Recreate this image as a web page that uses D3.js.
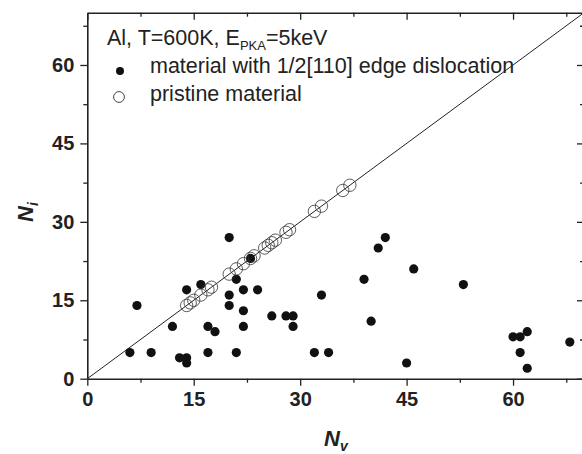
<!DOCTYPE html>
<html>
<head>
<meta charset="utf-8">
<script src="https://cdn.jsdelivr.net/npm/d3@7"></script>
<style>
  html, body { margin: 0; padding: 0; background: #fff; }
  svg { display: block; font-family: "Liberation Sans", Arial, sans-serif; }
</style>
</head>
<body>
<svg id="chart" width="582" height="454"></svg>
<script>
// material with 1/2[110] edge dislocation
const defectNv = [6, 7, 9, 12, 13, 14, 14, 14, 16, 17, 17, 18, 20, 20, 20, 21, 21, 22, 22, 22, 23, 24,
  26, 28, 29, 29, 32, 33, 34, 39, 40, 41, 42, 45, 46, 53, 60, 61, 62, 61, 62, 68]
const defectNi = [5, 14, 5, 10, 4, 4, 3, 17, 18, 10, 5, 9, 27, 16, 14, 19, 5, 17, 13, 10, 23, 17,
  12, 12, 12, 10, 5, 16, 5, 19, 11, 25, 27, 3, 21, 18, 8, 8, 9, 5, 2, 7]
// pristine material
const pristineNv = [14, 14.5, 15, 16, 17, 17.5, 20, 21, 22, 23, 23.5, 25, 25.5, 26, 26.5, 28, 28.5, 32, 33, 36, 37]
const pristineNi = [14, 14.5, 15, 16, 17, 17.5, 20, 21, 22, 23, 23.5, 25, 25.5, 26, 26.5, 28, 28.5, 32, 33, 36, 37]
const majorTicks = [0, 15, 30, 45, 60]
const minorTicks = [7.5, 22.5, 37.5, 52.5, 67.5]

const svg = d3.select('#chart')
const x = d3.scaleLinear().domain([0, 70]).range([87.3, 584])
const y = d3.scaleLinear().domain([0, 70]).range([378.7, 12.7])
const ink = '#222'

// y = x reference line
svg.append('line')
  .attr('x1', x(0)).attr('y1', y(0))
  .attr('x2', x(70)).attr('y2', y(70))
  .attr('stroke', ink).attr('stroke-width', 1)

// bottom/left ticks point out, top/right mirror axes point in
const axes = [
  [d3.axisBottom(x), `translate(0,${y(0)})`, true],
  [d3.axisLeft(y), `translate(${x(0)},0)`, true],
  [d3.axisBottom(x), `translate(0,${y(70)})`, false],
  [d3.axisLeft(y), `translate(${x(70)},0)`, false]
]
axes.forEach(([axis, t, labels]) => {
  const g = svg.append('g').attr('transform', t)
    .call(axis.tickValues(majorTicks).tickSizeOuter(0).tickSizeInner(7).tickPadding(6)
      .tickFormat(labels ? d3.format('d') : ''))
  g.select('.domain').attr('stroke', ink).attr('stroke-width', 1.6)
  g.selectAll('.tick line').attr('stroke', ink).attr('stroke-width', 1.3)
  g.selectAll('text')
    .attr('fill', ink)
    .attr('font-size', 20)
    .attr('font-weight', 'bold')
  const m = svg.append('g').attr('transform', t)
    .call(axis.tickValues(minorTicks).tickSizeInner(4).tickFormat(''))
  m.select('.domain').remove()
  m.selectAll('.tick line').attr('stroke', ink).attr('stroke-width', 1.3)
})

// data points
svg.append('g').selectAll('circle')
  .data(defectNv.map((v, i) => [v, defectNi[i]]))
  .join('circle')
  .attr('cx', d => x(d[0])).attr('cy', d => y(d[1]))
  .attr('r', 4.6).attr('fill', '#111')

svg.append('g').selectAll('circle')
  .data(pristineNv.map((v, i) => [v, pristineNi[i]]))
  .join('circle')
  .attr('cx', d => x(d[0])).attr('cy', d => y(d[1]))
  .attr('r', 6.2).attr('fill', 'none')
  .attr('stroke', '#333').attr('stroke-width', 0.8)

// axis titles
const xt = svg.append('text')
  .attr('x', 324).attr('y', 446)
  .attr('font-size', 22).attr('font-weight', 'bold').attr('font-style', 'italic')
  .attr('fill', ink)
xt.append('tspan').text('N')
xt.append('tspan').text('v').attr('font-size', 14).attr('dy', 5)

const yt = svg.append('text')
  .attr('transform', 'translate(33,222) rotate(-90)')
  .attr('font-size', 22).attr('font-weight', 'bold').attr('font-style', 'italic')
  .attr('fill', ink)
yt.append('tspan').text('N')
yt.append('tspan').text('i').attr('font-size', 14).attr('dy', 5)

// legend
const leg = svg.append('g').attr('fill', ink).attr('font-size', 21.5)
const t1 = leg.append('text').attr('x', 107).attr('y', 45)
t1.append('tspan').text('Al, T=600K, E')
t1.append('tspan').text('PKA').attr('font-size', 13).attr('dy', 5)
t1.append('tspan').text('=5keV').attr('dy', -5)
leg.append('circle').attr('cx', 120).attr('cy', 71).attr('r', 4).attr('fill', '#111')
leg.append('text').attr('x', 150).attr('y', 73).text('material with 1/2[110] edge dislocation')
leg.append('circle').attr('cx', 119).attr('cy', 97).attr('r', 5.4)
  .attr('fill', 'none').attr('stroke', '#333').attr('stroke-width', 0.9)
leg.append('text').attr('x', 150).attr('y', 101).text('pristine material')
</script>
</body>
</html>
